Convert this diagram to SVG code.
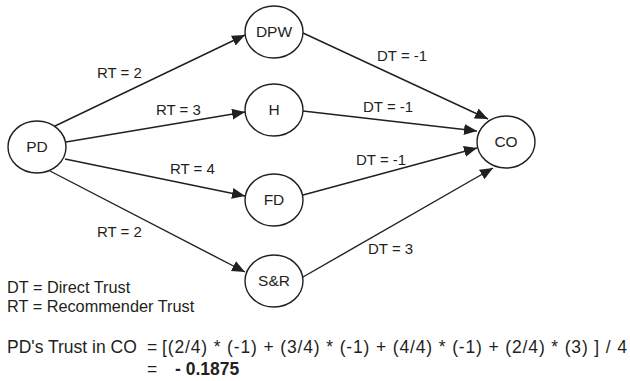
<svg xmlns="http://www.w3.org/2000/svg" width="630" height="381" viewBox="0 0 630 381">
<style>
text{font-family:"Liberation Sans",Arial,sans-serif;fill:#231f20}
.n ellipse{fill:#fff;stroke:#231f20;stroke-width:1.4}
.n text{font-size:15.5px;text-anchor:middle}
.c line{stroke:#231f20;stroke-width:1.4;marker-end:url(#ah)}
.l{font-size:15px}
.lg{font-size:16.3px}
.f{font-size:17.5px}
</style>
<defs>
<marker id="ah" markerUnits="userSpaceOnUse" markerWidth="14" markerHeight="12" refX="13" refY="5.5" orient="auto">
<path d="M0,0 L13,5.5 L0,11 Z" fill="#231f20"/>
</marker>
</defs>
<g id="connectors" class="c">
<line x1="55" y1="126" x2="245" y2="35"/>
<line x1="66" y1="142" x2="245" y2="112"/>
<line x1="65" y1="159" x2="245" y2="196"/>
<line x1="50" y1="171" x2="245" y2="272"/>
<line x1="303" y1="33" x2="488" y2="119"/>
<line x1="303" y1="111" x2="477" y2="131"/>
<line x1="303" y1="195" x2="477" y2="148"/>
<line x1="303" y1="277" x2="493" y2="168"/>
</g>
<g id="labels">
<text class="l" x="97" y="78">RT = 2</text>
<text class="l" x="156" y="115">RT = 3</text>
<text class="l" x="170" y="174">RT = 4</text>
<text class="l" x="97" y="237">RT = 2</text>
<text class="l" x="377" y="61">DT = -1</text>
<text class="l" x="363" y="112">DT = -1</text>
<text class="l" x="356" y="165">DT = -1</text>
<text class="l" x="368" y="254">DT = 3</text>
</g>
<g id="PD" class="n"><ellipse cx="37" cy="147" rx="29" ry="26"/><text x="37" y="152">PD</text></g>
<g id="DPW" class="n"><ellipse cx="274" cy="32" rx="29" ry="26"/><text x="274" y="37">DPW</text></g>
<g id="H" class="n"><ellipse cx="274" cy="110" rx="29" ry="26"/><text x="274" y="115">H</text></g>
<g id="FD" class="n"><ellipse cx="274" cy="200" rx="29" ry="26"/><text x="274" y="205">FD</text></g>
<g id="SR" class="n"><ellipse cx="274" cy="281" rx="29" ry="26"/><text x="274" y="286">S&amp;R</text></g>
<g id="CO" class="n"><ellipse cx="506" cy="142" rx="29" ry="26"/><text x="506" y="147">CO</text></g>
<g id="legend">
<text class="lg" x="7" y="293">DT = Direct Trust</text>
<text class="lg" x="7" y="312">RT = Recommender Trust</text>
</g>
<g id="formula">
<text class="f" x="7" y="353">PD's Trust in CO</text>
<text class="f" x="147" y="353">=</text>
<text class="f" x="162" y="353" textLength="465" lengthAdjust="spacing">[(2/4) * (-1) + (3/4) * (-1) + (4/4) * (-1) + (2/4) * (3) ] / 4</text>
<text class="f" x="147" y="375">=</text>
<text class="f" x="175" y="375" font-weight="bold" font-size="19.5px">- 0.1875</text>
</g>
</svg>
